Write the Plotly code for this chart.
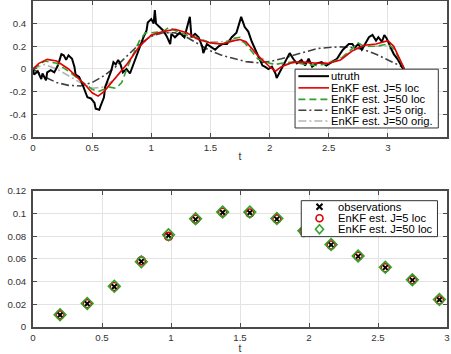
import plotly.graph_objects as go

# ---------------- data: top panel ----------------
t_truth = [0.00, 0.01, 0.04, 0.07, 0.08, 0.11, 0.12, 0.15, 0.18, 0.21,
           0.24, 0.26, 0.28, 0.30, 0.33, 0.35, 0.36, 0.39, 0.42, 0.44,
           0.46, 0.49, 0.52, 0.53, 0.56, 0.57, 0.60, 0.61, 0.64, 0.66,
           0.68, 0.70, 0.72, 0.74, 0.76, 0.79, 0.82, 0.845, 0.87, 0.90,
           0.93, 0.96, 0.97, 1.00, 1.02, 1.03, 1.04, 1.07, 1.10, 1.13,
           1.16, 1.17, 1.20, 1.24, 1.28, 1.326, 1.34, 1.37, 1.40, 1.43,
           1.44, 1.47, 1.50, 1.54, 1.57, 1.60, 1.64, 1.68, 1.72, 1.75,
           1.76, 1.79, 1.82, 1.85, 1.88, 1.90, 1.94, 1.96, 1.99, 2.02,
           2.05, 2.06, 2.09, 2.12, 2.15, 2.17, 2.20, 2.23, 2.27, 2.30,
           2.33, 2.36, 2.40, 2.44, 2.48, 2.53, 2.57, 2.60, 2.62, 2.67,
           2.70, 2.72, 2.75, 2.78, 2.81, 2.84, 2.87, 2.90, 2.92, 2.95,
           2.97, 2.99, 3.02, 3.05, 3.08, 3.10, 3.13]
u_truth = [0.00, -0.05, -0.02, -0.09, -0.04, -0.10, -0.03, -0.01, -0.03, 0.03,
           0.13, 0.12, 0.08, 0.12, 0.09, 0.02, -0.05, -0.07, -0.14, -0.20,
           -0.25, -0.26, -0.30, -0.35, -0.36, -0.33, -0.25, -0.16, -0.07, -0.02,
           0.06, 0.04, 0.08, 0.04, -0.03, 0.00, -0.04, 0.03, 0.10, 0.20,
           0.27, 0.34, 0.41, 0.44, 0.40, 0.52, 0.40, 0.37, 0.34, 0.29,
           0.22, 0.31, 0.28, 0.32, 0.28, 0.46, 0.28, 0.31, 0.28, 0.20,
           0.14, 0.22, 0.20, 0.17, 0.20, 0.22, 0.22, 0.28, 0.32, 0.41,
           0.46, 0.37, 0.33, 0.24, 0.17, 0.11, 0.03, 0.02, 0.00, 0.02,
           -0.04, -0.08, -0.02, 0.03, 0.10, 0.14, 0.09, 0.05, 0.08, 0.03,
           0.09, 0.02, 0.05, 0.06, 0.03, 0.06, 0.09, 0.14, 0.17, 0.22,
           0.22, 0.19, 0.22, 0.17, 0.22, 0.28, 0.30, 0.25, 0.28, 0.24,
           0.30, 0.27, 0.20, 0.13, 0.09, 0.05, 0.00]

t_j5loc = [0.00, 0.05, 0.12, 0.20, 0.30, 0.40, 0.45, 0.50, 0.55, 0.60,
           0.70, 0.80, 0.90, 1.00, 1.10, 1.20, 1.30, 1.40, 1.50, 1.60,
           1.70, 1.75, 1.80, 1.90, 2.00, 2.05, 2.10, 2.20, 2.30, 2.40,
           2.50, 2.60, 2.70, 2.80, 2.90, 3.00, 3.05, 3.10, 3.14]
u_j5loc = [0.00, 0.05, 0.085, 0.07, 0.00, -0.10, -0.15, -0.21, -0.24, -0.20,
           -0.08, 0.05, 0.20, 0.30, 0.33, 0.35, 0.32, 0.26, 0.23, 0.22,
           0.25, 0.26, 0.24, 0.12, 0.02, -0.02, 0.02, 0.06, 0.06, 0.05,
           0.05, 0.08, 0.16, 0.21, 0.22, 0.25, 0.20, 0.08, 0.00]

t_j50loc = [0.00, 0.10, 0.20, 0.30, 0.40, 0.50, 0.55, 0.60, 0.65, 0.70,
            0.75, 0.80, 0.90, 0.95, 1.00, 1.10, 1.15, 1.20, 1.30, 1.40,
            1.50, 1.60, 1.70, 1.75, 1.80, 1.90, 2.00, 2.05, 2.10, 2.20,
            2.30, 2.40, 2.50, 2.60, 2.70, 2.75, 2.80, 2.90, 3.00, 3.05,
            3.10, 3.14]
u_j50loc = [0.00, 0.07, 0.05, -0.02, -0.10, -0.18, -0.20, -0.18, -0.16, -0.17,
            -0.12, 0.02, 0.25, 0.32, 0.32, 0.33, 0.37, 0.34, 0.30, 0.27,
            0.23, 0.22, 0.27, 0.28, 0.22, 0.09, 0.05, 0.04, 0.05, 0.06,
            0.04, 0.03, 0.05, 0.09, 0.18, 0.23, 0.20, 0.20, 0.22, 0.18,
            0.08, 0.00]

t_orig = [0.00, 0.10, 0.20, 0.30, 0.40, 0.50, 0.60, 0.70, 0.80, 0.90,
          1.00, 1.10, 1.20, 1.30, 1.40, 1.50, 1.60, 1.70, 1.80, 1.90,
          2.00, 2.10, 2.20, 2.30, 2.40, 2.50, 2.60, 2.70, 2.80, 2.90,
          3.00, 3.10, 3.14]
u_j5orig = [0.00, -0.07, -0.12, -0.145, -0.15, -0.12, -0.06, 0.02, 0.12, 0.22,
            0.29, 0.32, 0.32, 0.28, 0.22, 0.16, 0.12, 0.09, 0.065, 0.055,
            0.065, 0.09, 0.12, 0.15, 0.18, 0.19, 0.195, 0.19, 0.17, 0.13,
            0.08, 0.03, 0.00]
u_j50orig = [0.00, 0.04, 0.00, -0.06, -0.12, -0.17, -0.16, -0.08, 0.05, 0.20,
             0.29, 0.32, 0.32, 0.29, 0.26, 0.24, 0.24, 0.26, 0.23, 0.12,
             0.05, 0.04, 0.05, 0.05, 0.05, 0.06, 0.10, 0.16, 0.20, 0.20,
             0.20, 0.08, 0.00]

# ---------------- data: bottom panel ----------------
t_obs = [0.196, 0.393, 0.589, 0.785, 0.982, 1.178, 1.374, 1.571,
         1.767, 1.963, 2.160, 2.356, 2.553, 2.749, 2.945]
y_obs = [0.0106, 0.0204, 0.0354, 0.0577, 0.0805, 0.0948, 0.1008, 0.1006,
         0.0950, 0.0845, 0.0723, 0.0622, 0.0523, 0.0413, 0.0240]
y_j5 = [0.0107, 0.0205, 0.0356, 0.0582, 0.0798, 0.0950, 0.1010, 0.1004,
        0.0952, 0.0843, 0.0722, 0.0624, 0.0522, 0.0415, 0.0238]
y_j50 = [0.0108, 0.0207, 0.0358, 0.0575, 0.0812, 0.0954, 0.1012, 0.1012,
         0.0955, 0.0848, 0.0726, 0.0626, 0.0526, 0.0416, 0.0242]

top_ticks = [0, 0.5, 1, 1.5, 2, 2.5, 3, 3.5]
top_ticktext = ["0", "0.5", "1", "1.5", "2", "2.5", "3", "3.5"]
top_yticks = [-0.6, -0.4, -0.2, 0, 0.2, 0.4]
top_yticktext = ["-0.6", "-0.4", "-0.2", "0", "0.2", "0.4"]
bot_ticks = [0, 0.5, 1, 1.5, 2, 2.5, 3]
bot_ticktext = ["0", "0.5", "1", "1.5", "2", "2.5", "3"]
bot_yticks = [0, 0.02, 0.04, 0.06, 0.08, 0.10, 0.12]
bot_yticktext = ["0", "0.02", "0.04", "0.06", "0.08", "0.1", "0.12"]

top_names = ["utruth", "EnKF est. J=5 loc", "EnKF est. J=50 loc",
             "EnKF est. J=5 orig.", "EnKF est. J=50 orig."]
bot_names = ["observations", "EnKF est. J=5 loc", "EnKF est. J=50 loc"]

# ---------------- styles ----------------
FONT = "Liberation Sans, Arial, Helvetica, sans-serif"
RED = "#e00000"
GREEN = "#33a02c"
DARK = "#404040"
LIGHT = "#b4b4b4"
AX = "#4a4a4a"
GRID = "#e3e3e3"
top_styles = [
    dict(color="black", width=2, dash="solid"),
    dict(color=RED, width=1.6, dash="solid"),
    dict(color=GREEN, width=1.6, dash="7px,4px"),
    dict(color=DARK, width=1.6, dash="8px,3px,2px,3px"),
    dict(color=LIGHT, width=1.6, dash="8px,3px,2px,3px"),
]

fig = go.Figure()

series = [(t_truth, u_truth), (t_j5loc, u_j5loc), (t_j50loc, u_j50loc),
          (t_orig, u_j5orig), (t_orig, u_j50orig)]
order = [4, 3, 0, 2, 1]
for i in order:
    xs, ys = series[i]
    fig.add_trace(go.Scatter(x=xs, y=ys, mode="lines", name=top_names[i],
                             line=top_styles[i], xaxis="x", yaxis="y",
                             showlegend=False))

fig.add_trace(go.Scatter(x=t_obs, y=y_obs, mode="markers", name=bot_names[0],
                         marker=dict(symbol="x-thin", size=6,
                                     line=dict(color="black", width=2)),
                         xaxis="x2", yaxis="y2", showlegend=False))
fig.add_trace(go.Scatter(x=t_obs, y=y_j5, mode="markers", name=bot_names[1],
                         marker=dict(symbol="circle-open", size=8, color=RED,
                                     line=dict(color=RED, width=1.6)),
                         xaxis="x2", yaxis="y2", showlegend=False))
fig.add_trace(go.Scatter(x=t_obs, y=y_j50, mode="markers", name=bot_names[2],
                         marker=dict(symbol="diamond-open", size=9, color=GREEN,
                                     line=dict(color=GREEN, width=1.6)),
                         xaxis="x2", yaxis="y2", showlegend=False))

axis_common = dict(showline=True, linecolor=AX, linewidth=1.6, mirror="ticks",
                   ticks="inside", ticklen=4, tickcolor=AX, tickwidth=1,
                   showgrid=True, gridcolor=GRID, gridwidth=1, zeroline=False,
                   automargin=False,
                   tickfont=dict(family=FONT, size=9.7, color="#333333"))
title_font = dict(family=FONT, size=10.5, color="#333333")

fig.update_layout(
    width=451, height=354,
    margin=dict(l=33, r=4, t=1, b=27, autoexpand=False),
    paper_bgcolor="white", plot_bgcolor="white",
    showlegend=False,
    xaxis=dict(domain=[0, 1], anchor="y", range=[0, 3.5], tickvals=top_ticks,
               ticktext=top_ticktext, ticklabelstandoff=1,
               title=dict(text="t", font=title_font, standoff=0),
               **axis_common),
    yaxis=dict(domain=[0.583, 1], anchor="x", range=[-0.6, 0.6],
               tickvals=top_yticks, ticktext=top_yticktext, ticklabelstandoff=3,
               **axis_common),
    xaxis2=dict(domain=[0, 1], anchor="y2", range=[0, 3], tickvals=bot_ticks,
                ticktext=bot_ticktext, ticklabelstandoff=1,
                title=dict(text="t", font=title_font, standoff=0),
                **axis_common),
    yaxis2=dict(domain=[0, 0.418], anchor="x2", range=[0, 0.12],
                tickvals=bot_yticks, ticktext=bot_yticktext, ticklabelstandoff=3,
                **axis_common),
)

# ---------------- manual legends (drawn in axis-domain coordinates) ----------------
shapes = []
annos = []
LEGFONT = dict(family=FONT, size=11.2, color="black")
bx0, bx1, by0, by1 = 0.633, 0.979, 0.066, 0.4985
shapes.append(dict(type="rect", xref="x domain", yref="y domain",
                   x0=bx0, x1=bx1, y0=by0, y1=by1, fillcolor="white",
                   line=dict(color="#333333", width=1), layer="above"))
rows_top = [0.447, 0.361, 0.276, 0.196, 0.117]
for i, ry in enumerate(rows_top):
    st = top_styles[i]
    shapes.append(dict(type="line", xref="x domain", yref="y domain",
                       x0=0.641, x1=0.715, y0=ry, y1=ry, layer="above",
                       line=dict(color=st["color"], width=st["width"], dash=st["dash"])))
    annos.append(dict(xref="x domain", yref="y domain", x=0.716, y=ry,
                      text=top_names[i], showarrow=False, xanchor="left",
                      yanchor="middle", font=LEGFONT))

cx0, cx1, cy0, cy1 = 0.648, 0.977, 0.663, 0.927
shapes.append(dict(type="rect", xref="x2 domain", yref="y2 domain",
                   x0=cx0, x1=cx1, y0=cy0, y1=cy1, fillcolor="white",
                   line=dict(color="#333333", width=1), layer="above"))
rows_bot = [0.883, 0.798, 0.717]
mx = 0.692
for dx, dy in [(-3, 3), (-3, -3)]:
    shapes.append(dict(type="line", xref="x2 domain", yref="y2 domain",
                       xsizemode="pixel", ysizemode="pixel",
                       xanchor=mx, yanchor=rows_bot[0],
                       x0=dx, x1=-dx, y0=dy, y1=-dy, layer="above",
                       line=dict(color="black", width=2)))
shapes.append(dict(type="circle", xref="x2 domain", yref="y2 domain",
                   xsizemode="pixel", ysizemode="pixel",
                   xanchor=mx, yanchor=rows_bot[1],
                   x0=-3.5, x1=3.5, y0=-3.5, y1=3.5, layer="above",
                   line=dict(color=RED, width=1.6)))
shapes.append(dict(type="path", xref="x2 domain", yref="y2 domain",
                   xsizemode="pixel", ysizemode="pixel",
                   xanchor=mx, yanchor=rows_bot[2],
                   path="M 0 4.5 L 4 0 L 0 -4.5 L -4 0 Z", layer="above",
                   line=dict(color=GREEN, width=1.6)))
for i, ry in enumerate(rows_bot):
    annos.append(dict(xref="x2 domain", yref="y2 domain", x=0.733, y=ry,
                      text=bot_names[i], showarrow=False, xanchor="left",
                      yanchor="middle", font=LEGFONT))

fig.update_layout(shapes=shapes, annotations=annos)
fig.write_html("out.html", config={"displayModeBar": False},
               post_script="document.body.style.margin='0';document.body.style.overflow='hidden';")
